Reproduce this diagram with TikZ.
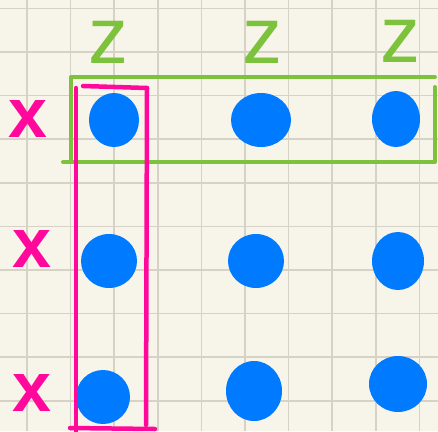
\documentclass[tikz,border=0pt]{standalone}
\usepackage{fontspec}
\setmainfont{Liberation Sans}
\usetikzlibrary{shapes.geometric}
\definecolor{paper}{RGB}{247,245,233}
\definecolor{gridline}{RGB}{214,211,198}
\definecolor{dotblue}{RGB}{0,122,255}
\definecolor{hotpink}{RGB}{255,8,155}
\definecolor{leafgreen}{RGB}{125,194,60}
\tikzstyle{dot}=[shape=ellipse, inner sep=0, fill=dotblue]
\tikzstyle{xlab}=[text=hotpink, inner sep=0, font=\fontsize{70}{70}\selectfont\bfseries]
\tikzstyle{zlab}=[text=leafgreen, inner sep=0, font=\fontsize{80}{80}\selectfont]
\tikzstyle{pinkline}=[draw=hotpink, line width=4.5pt, line cap=round]
\tikzstyle{greenline}=[draw=leafgreen, line width=4pt, line cap=round, line join=round]

\begin{document}
\begin{tikzpicture}[x=1pt, y=-1pt]
\useasboundingbox (0,0) rectangle (438,431);
\fill[paper] (0,0) rectangle (438,431);
\foreach \i in {0,...,9} {\draw[gridline, line width=1.6pt] (27+43.6*\i,0)--(27+43.6*\i,431);}
\foreach \i in {0,...,9} {\draw[gridline, line width=1.6pt] (0,8.3+43.6*\i)--(438,8.3+43.6*\i);}
% labels
\node at (108,42)[zlab](z1){z};
\node at (262,42)[zlab](z2){z};
\node at (400,41)[zlab](z3){z};
\node at (28,119)[xlab](x1){x};
\node at (32,249)[xlab](x2){x};
\node at (32,393)[xlab](x3){x};
% green box round the top row
\draw[greenline] (71,162)--(71,77)--(435,77);
\draw[greenline] (63,162)--(435,162)--(435,87);
% dots
\node at (114,120)[dot, minimum width=50, minimum height=54](d11){};
\node at (261,120)[dot, minimum width=60, minimum height=54](d12){};
\node at (396,119)[dot, minimum width=48, minimum height=56](d13){};
\node at (109,261)[dot, minimum width=56, minimum height=54](d21){};
\node at (256,261)[dot, minimum width=56, minimum height=54](d22){};
\node at (398,261)[dot, minimum width=52, minimum height=58](d23){};
\node at (103,397)[dot, minimum width=54, minimum height=54](d31){};
\node at (254,391)[dot, minimum width=56, minimum height=60](d32){};
\node at (398,384)[dot, minimum width=58, minimum height=56](d33){};
% pink box round the left column
\draw[pinkline] (83,86)--(147,88);
\draw[pinkline] (76,88)--(76,434);
\draw[pinkline] (147,88)--(146,425);
\draw[pinkline] (70,428)--(155,429);
\end{tikzpicture}
\end{document}
